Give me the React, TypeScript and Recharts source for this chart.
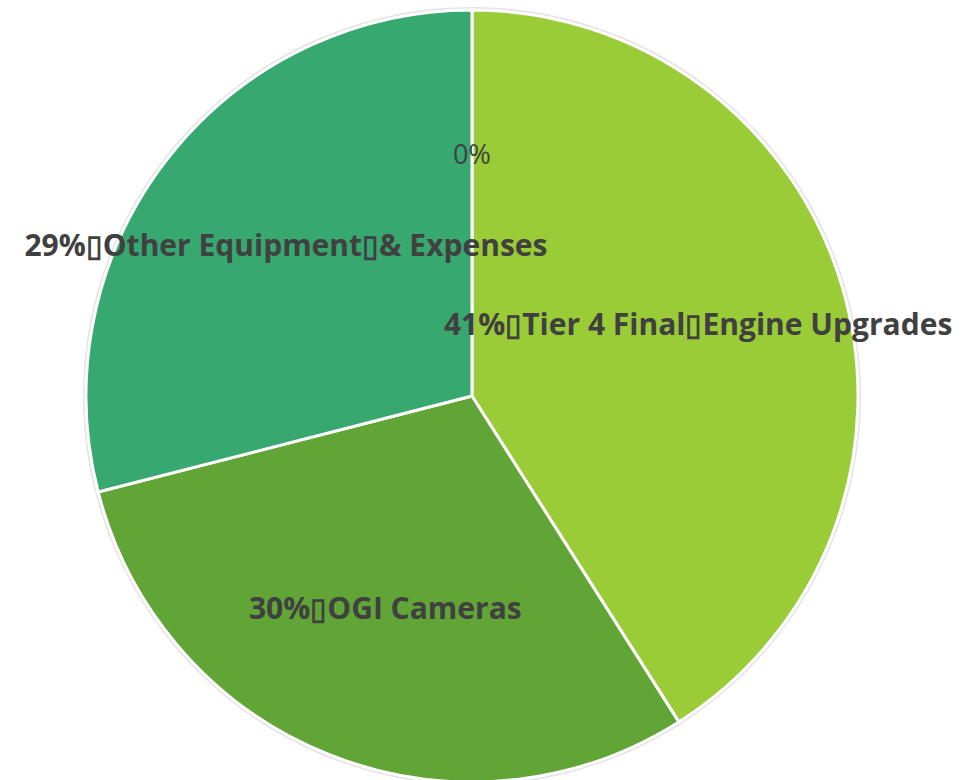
import React from 'react'
import { PieChart, Pie, Cell } from 'recharts'

// the source labels carry a line-break character that the original renders as a missing-glyph box
const BREAK = '\u25AF'

const categories = [`Tier 4 Final${BREAK}Engine Upgrades`, 'OGI Cameras', `Other Equipment${BREAK}& Expenses`, '']
const shares = [41, 30, 29, 0]
const colors = ['#9ACC37', '#62A537', '#37A86F', '#37A86F']

const data = categories.map((name, i) => ({ name, value: shares[i] }))

const RAD = Math.PI / 180

function SliceLabel(props: any) {
  const { cx, cy, midAngle, outerRadius, index, value } = props
  const r = outerRadius * 0.61
  const x = cx + r * Math.cos(-midAngle * RAD)
  const y = cy + r * Math.sin(-midAngle * RAD) - 7
  const name = categories[index]
  const empty = value === 0
  return (
    <text
      x={x}
      y={y}
      textAnchor="middle"
      dominantBaseline="central"
      fill="#404040"
      style={{
        fontFamily: '"Segoe UI", "Open Sans", sans-serif',
        fontSize: empty ? 27 : 30,
        fontWeight: empty ? 400 : 700,
      }}
    >
      {empty ? `${value}%` : `${value}%${BREAK}${name}`}
    </text>
  )
}

export default function App() {
  return (
    <>
      <style>{`body { margin: 0; }`}</style>
      <PieChart width={975} height={780} margin={{ top: 0, right: 0, bottom: 0, left: 0 }}>
        <Pie
          data={[{ value: 1 }]}
          dataKey="value"
          cx={472}
          cy={396}
          outerRadius={389}
          fill="#e4e4e4"
          stroke="none"
          isAnimationActive={false}
        />
        <Pie
          data={data}
          dataKey="value"
          cx={472}
          cy={396}
          outerRadius={386}
          startAngle={90}
          endAngle={-270}
          stroke="#ffffff"
          strokeWidth={3}
          label={SliceLabel}
          labelLine={false}
          isAnimationActive={false}
        >
          {data.map((d, i) => (
            <Cell key={d.name + i} fill={colors[i]} />
          ))}
        </Pie>
      </PieChart>
    </>
  )
}
